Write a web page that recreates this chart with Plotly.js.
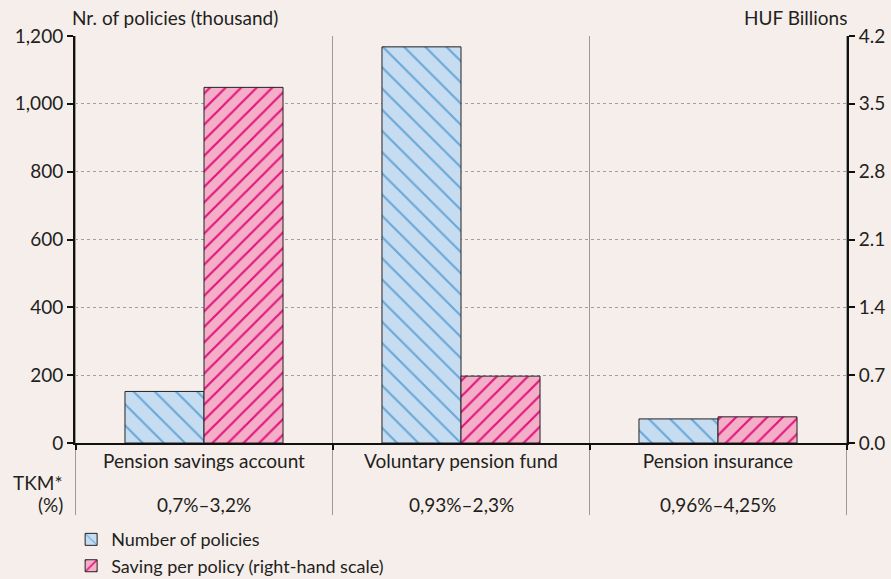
<!DOCTYPE html>
<html>
<head>
<meta charset="utf-8">
<script src="https://cdn.plot.ly/plotly-3.0.1.min.js"></script>
<style>
  html, body { margin: 0; padding: 0; background: #f6eeeb; }
  #chart { width: 891px; height: 579px; }
</style>
</head>
<body>
<div id="chart"></div>
<script>
    var categories = ['Pension savings account', 'Voluntary pension fund', 'Pension insurance'];
    var policies = [152, 1168, 71];          // thousand
    var savingPerPolicy = [3.67, 0.69, 0.27]; // HUF billions
    var tkm = ['0,7%–3,2%', '0,93%–2,3%', '0,96%–4,25%'];

    var font = 'Lato, "Open Sans", sans-serif';
    var fs = 19;
    var ink = '#231f20';

    var tracePolicies = {
        x: categories,
        y: policies,
        name: 'Number of policies',
        type: 'bar',
        yaxis: 'y',
        offsetgroup: 'a',
        marker: {
            color: '#c6dcf0',
            pattern: { shape: '\\', fgcolor: '#6aa7d8', bgcolor: '#c6dcf0', size: 15, solidity: 0.14 },
            line: { color: '#222', width: 1 }
        },
        hoverinfo: 'x+y'
    };

    var traceSaving = {
        x: categories,
        y: savingPerPolicy,
        name: 'Saving per policy (right-hand scale)',
        type: 'bar',
        yaxis: 'y2',
        offsetgroup: 'b',
        marker: {
            color: '#f5aec8',
            pattern: { shape: '/', fgcolor: '#e0197d', bgcolor: '#f5aec8', size: 11, solidity: 0.2 },
            line: { color: '#222', width: 1 }
        },
        hoverinfo: 'x+y'
    };

    // separators between categories, reaching down into the TKM row
    var shapes = [-0.5, 0.5, 1.5, 2.5].map(function (b) {
        return {
            type: 'line', xref: 'x', yref: 'paper',
            x0: b, x1: b, y0: -0.177, y1: 1,
            line: { color: '#9a9a9a', width: 1 },
            layer: 'below'
        };
    });

    function note(text, x, y, xanchor, xref) {
        return { text: text, xref: xref || 'paper', yref: 'paper', x: x, y: y,
                 xanchor: xanchor, yanchor: 'middle', showarrow: false,
                 font: { size: fs, color: ink, family: font } };
    }

    var annotations = [
        note('Nr. of policies (thousand)', -0.007, 1.045, 'left'),
        note('HUF Billions', 1.003, 1.045, 'right'),
        note('TKM*', -0.013, -0.098, 'right'),
        note('(%)', -0.013, -0.152, 'right')
    ];
    tkm.forEach(function (t, i) {
        annotations.push(note(t, categories[i], -0.152, 'center', 'x'));
    });

    var layout = {
        width: 891,
        height: 579,
        paper_bgcolor: '#f6eeeb',
        plot_bgcolor: '#f6eeeb',
        font: { family: font, size: fs, color: ink },
        margin: { l: 75, r: 44, t: 36, b: 136, autoexpand: false },
        barmode: 'group',
        bargap: 0.385,
        bargroupgap: 0,
        showlegend: true,
        legend: {
            x: -0.005, y: -0.192, xanchor: 'left', yanchor: 'top',
            orientation: 'v', bgcolor: 'rgba(0,0,0,0)',
            font: { size: 18, color: ink, family: font },
            tracegroupgap: 0
        },
        xaxis: {
            type: 'category',
            showline: true, linecolor: '#111', linewidth: 2,
            ticks: 'outside', tickson: 'boundaries', ticklen: 5, tickcolor: '#111', tickwidth: 2,
            showgrid: false, zeroline: false,
            tickfont: { size: fs, color: ink, family: font }
        },
        yaxis: {
            range: [0, 1200], dtick: 200, tickformat: ',d',
            showline: true, linecolor: '#111', linewidth: 2,
            ticks: 'outside', ticklen: 6, tickcolor: '#111', tickwidth: 2,
            showgrid: true, gridcolor: '#a0a0a0', griddash: 'dot', gridwidth: 1,
            zeroline: false,
            tickfont: { size: fs, color: ink, family: font }
        },
        yaxis2: {
            range: [0, 4.2], dtick: 0.7, tickformat: '.1f',
            overlaying: 'y', side: 'right',
            showline: true, linecolor: '#111', linewidth: 2,
            ticks: 'outside', ticklen: 6, tickcolor: '#111', tickwidth: 2,
            showgrid: false, zeroline: false,
            tickfont: { size: fs, color: ink, family: font }
        },
        shapes: shapes,
        annotations: annotations
    };

    Plotly.newPlot('chart', [tracePolicies, traceSaving], layout, { displayModeBar: false, staticPlot: true });
</script>
</body>
</html>
